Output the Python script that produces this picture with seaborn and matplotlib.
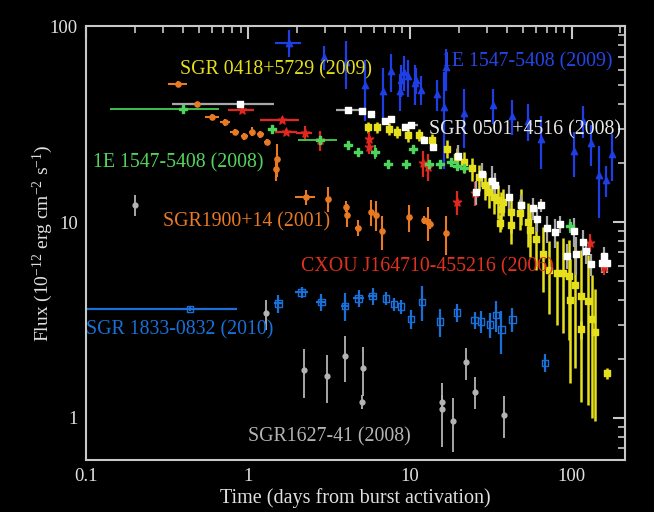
import numpy as np
import pandas as pd
import matplotlib
matplotlib.use("Agg")
import matplotlib.pyplot as plt
import seaborn as sns
from matplotlib.ticker import LogLocator, FixedLocator, FuncFormatter, NullFormatter

# ---------------- data ----------------
# SGR1900+14 (2001)
x_1900 = [0.37, 0.485, 0.60, 0.72, 0.83, 0.95, 1.06, 1.19, 1.31, 1.52, 1.50, 2.28, 3.13, 4.06, 4.08, 4.76,
          5.72, 6.17, 6.72, 9.9, 12.2, 12.9, 13.4, 16.7]
y_1900 = [51, 40, 34.5, 32.3, 29.0, 27.4, 29.0, 28.1, 25.7, 21.0, 18.7, 13.4, 13.2, 12.0, 10.9, 9.35,
          11.2, 10.9, 9.0, 10.6, 10.3, 10.0, 9.8, 8.8]
xe_1900 = [0.05, 0.06, 0.06, 0.05, 0.05, 0.05, 0.05, 0.06, 0.05, 0.03, 0.03, 0.33, 0.03, 0.05, 0.03, 0.2,
           0.05, 0.05, 0.05, 0.1, 0.3, 0.3, 0.3, 0.1]
ye_1900 = [1.5, 1.2, 1.2, 1.2, 1.0, 1.0, 1.5, 1.2, 1.0, 4.0, 2.5, 1.2, 2.0, 0.8, 1.5, 0.9,
           1.7, 1.9, 1.8, 1.7, 0.5, 2.0, 0.6, 2.0]

# SGR 0418+5729 (2009)
x_0418 = [5.5, 6.3, 7.4, 8.3, 9.7, 11.4, 13.8, 16.9, 19.5, 21.7, 24.1, 26.9, 29, 31, 33, 35, 36.7, 42,
          36, 42, 48.6, 53.5, 55, 60, 66.5, 72, 81, 88, 96, 98, 105, 114, 126, 134, 140, 114, 164,
          37.6, 47.6]
y_0418 = [30.5, 30.5, 30, 29, 27.8, 28.0, 26.2, 23.7, 21.5, 20.4, 18.8, 17.0, 15.5, 14.3, 13.5, 12.9, 11.7, 11.3,
          9.9, 9.7, 12.2, 10.0, 9.1, 8.2, 6.9, 5.7, 5.5, 5.5, 5.3, 4.0, 4.8, 4.2, 3.97, 3.2, 2.76, 2.84, 1.69,
          12.7, 11.1]
ye_0418 = [2.0, 2.0, 2.0, 2.0, 2.0, 2, 2.0, 2.5, 2.5, 2.5, 2.5, 2.5, 2.5, 2.5, 2.5, 2.5, 2.5, 2.5,
           1.0, 2, 2.5, 2.5, 2.5, 2.5, 2.5, 2.3, 2.5, 2.8, 2.8, 2.5, 3, 3, 2.8, 2.2, 1.8, 0.3, 0.1,
           2.0, 2.0]

# SGR 0501+4516 (2008)
x_0501 = [0.89, 4.17, 5.05, 5.75, 7.06, 7.6, 9.4, 10.1, 12.3, 13.9, 19.8, 25.6, 27.8, 32.3, 33.4, 40.7,
          48.6, 57.5, 65, 61.3, 70, 79, 85, 93, 103, 107, 117, 123, 132, 153, 158, 165]
y_0501 = [40.2, 37.3, 37.1, 35.5, 33, 33.5, 30.6, 31.2, 26.4, 24.2, 21.8, 14.3, 17.6, 16.3, 15.4, 13.5,
          12.2, 11.8, 12.2, 10.4, 9.3, 8.9, 9.8, 6.75, 9.0, 6.9, 7.9, 7.1, 6.1, 6.2, 6.75, 6.2]
xe_0501 = [0.55, 0.66, 0.2, 0.2, 0.3, 0.2, 0.3, 1.2, 0.3, 0.3, 0, 0, 0, 0, 0, 0,
           0, 0, 0, 0, 0, 0, 0, 0, 0, 0, 0, 0, 0, 0, 0, 0]
ye_0501 = [0.6, 0.6, 0.6, 0.6, 0.6, 0.6, 0.6, 0.6, 1.0, 1.0, 3, 2, 2.5, 3, 2.5, 2,
           1.5, 1.5, 1, 1.5, 1.5, 1.5, 1, 1, 1.5, 1.5, 1.2, 1, 0.8, 0.7, 0.7, 0.7]

# 1E 1547-5408 (2008)
x_1547a = [0.40, 1.40, 2.78, 4.17, 4.8, 6.1, 7.3, 9.5, 10.4, 13.2, 15.4, 18.0, 19.7, 21.5, 98]
y_1547a = [38.0, 29.8, 26.4, 24.8, 22.9, 22.9, 19.7, 19.9, 23.5, 19.7, 19.7, 20.4, 19.3, 18.8, 9.6]
xe_1547a = [0.26, 0.05, 0.75, 0.1, 0.1, 0.1, 0.1, 0.1, 0.1, 0.2, 0.2, 0.3, 0.3, 0.3, 1.5]
ye_1547a = [0.8, 0.8, 0.8, 0.8, 0.8, 2.0, 0.8, 0.8, 0.8, 0.8, 0.8, 0.8, 1.0, 0.8, 0.8]

# 1E 1547-5408 (2009)
x_1547b = [1.79, 2.95, 4.05, 5.3, 6.8, 7.7, 8.7, 8.8, 9.2, 9.8, 10.7, 10.9, 11.8, 14.7, 16.2, 16.8,
           21.7, 32.5, 42.9, 53.5, 64.7, 103, 117, 132, 147, 162, 178]
y_1547b = [82.5, 69.5, 66, 50, 46.5, 59.3, 47, 53.5, 58.5, 55.5, 51.5, 53, 47.5, 45, 38.7, 62,
           36, 39.6, 35, 33, 26.7, 23, 33, 25.4, 17.5, 16.4, 22.2]
ye_1547b = [13, 10, 18, 17, 15, 13, 10, 10, 12, 12, 12, 8, 8, 8, 20, 15,
            12, 8, 7, 7, 8, 6, 6, 6, 7, 3, 6]
xe_1547b = [0.33, 0, 0, 0, 0, 0, 0, 0, 0, 0, 0, 0, 0, 0, 0, 0,
            0, 0, 0, 0, 0, 0, 0, 0, 0, 0, 0]

# CXOU J164710-455216 (2006)
x_cxou = [0.92, 1.63, 1.73, 2.24, 2.77, 5.6, 5.6, 12.0, 13.0, 19.6, 25.4, 129, 158]
y_cxou = [37.5, 33.4, 29.0, 28.6, 26.2, 26.7, 24.3, 20.0, 19.2, 12.7, 14.1, 7.85, 5.9]
xe_cxou = [0.17, 0.45, 0.27, 0.25, 0.05, 0.1, 0.1, 0.2, 0.2, 0.2, 0.3, 1, 1]
ye_cxou = [1.0, 1.0, 1.0, 2.5, 3.0, 2.0, 2.0, 3.0, 3.0, 1.8, 2.0, 0.8, 0.5]

# SGR 1833-0832 (2010)
x_1833 = [0.44, 1.54, 2.15, 2.84, 3.97, 4.83, 5.89, 7.13, 8.0, 8.8, 10.2, 11.9, 15.4, 19.6, 25.1,
          27.6, 31.3, 34, 36.7, 43, 68.5]
y_1833 = [3.6, 3.85, 4.38, 3.92, 3.73, 4.08, 4.19, 4.08, 3.82, 3.7, 3.2, 3.92, 3.1, 3.45, 3.16,
          3.1, 3.0, 3.35, 2.83, 3.19, 1.91]
xe_1833 = [0.42, 0.1, 0.2, 0.2, 0.2, 0.4, 0.4, 0.1, 0.1, 0.1, 0, 0, 0, 0, 0,
           0, 0, 0, 0, 0, 0]
ye_1833 = [0.1, 0.4, 0.3, 0.4, 0.6, 0.4, 0.4, 0.3, 0.3, 0.3, 0.35, 0.8, 0.5, 0.35, 0.3,
           0.4, 0.45, 0.6, 0.7, 0.45, 0.2]

# SGR1627-41 (2008)
x_1627 = [0.20, 1.30, 2.22, 3.09, 3.99, 5.15, 5.10, 15.8, 15.8, 18.6, 22.2, 25.4, 38.0]
y_1627 = [12.3, 3.42, 1.76, 1.64, 2.07, 1.79, 1.21, 1.21, 1.11, 0.97, 1.92, 1.36, 1.04]
ye_1627 = [1.5, 0.6, 0.5, 0.45, 0.55, 0.5, 0.1, 0.1, 0.4, 0.3, 0.35, 0.25, 0.25]

xticks = [0.1, 1, 10, 100]
yticks = [1, 10, 100]
xlabel = "Time (days from burst activation)"
ylabel = r"Flux (10$^{-12}$ erg cm$^{-2}$ s$^{-1}$)"

# labels: text, x, y, color
labels = [
    ("SGR 0418+5729 (2009)", 0.38, 59.7, "#e6df1c"),
    ("1E 1547-5408 (2009)", 15.9, 66.0, "#2545e6"),
    ("SGR 0501+4516 (2008)", 13.2, 29.5, "#e8e8e8"),
    ("1E 1547-5408 (2008)", 0.111, 20.0, "#52d45c"),
    ("SGR1900+14 (2001)", 0.30, 10.0, "#e87a24"),
    ("CXOU J164710-455216 (2006)", 2.13, 5.9, "#e2301f"),
    ("SGR 1833-0832 (2010)", 0.1, 2.81, "#1a70d8"),
    ("SGR1627-41 (2008)", 1.0, 0.80, "#b4b4b4"),
]

# ---------------- style ----------------
sns.set_theme(style="dark")
plt.rcParams.update({
    "figure.facecolor": "black",
    "axes.facecolor": "black",
    "savefig.facecolor": "black",
    "axes.edgecolor": "#c8c8c8",
    "text.color": "#e0e0e0",
    "axes.labelcolor": "#e0e0e0",
    "xtick.color": "#c8c8c8",
    "ytick.color": "#c8c8c8",
    "mathtext.fontset": "custom",
    "mathtext.rm": "Liberation Serif",
    "mathtext.default": "regular",
    "axes.grid": False,
})
plt.rcParams["font.family"] = ["Liberation Serif", "DejaVu Serif"]

fig = plt.figure(figsize=(6.54, 5.12), dpi=100)
ax = fig.add_axes([0.1315, 0.1016, 0.824, 0.847])
ax.set_xscale("log")
ax.set_yscale("log")


def draw(x, y, xe, ye, color, marker, size, ecolor=None, elw=1.5, fc=None, ec=None):
    ecolor = ecolor or color
    ax.errorbar(x, y, xerr=xe, yerr=ye, fmt="none", ecolor=ecolor, elinewidth=elw, capsize=0, zorder=2)
    df = pd.DataFrame({"x": x, "y": y})
    sns.scatterplot(data=df, x="x", y="y", ax=ax, marker=marker, s=size,
                    color=fc if fc is not None else color,
                    edgecolor=ec if ec is not None else color, linewidth=1.0, zorder=3, legend=False)


draw(x_1627, y_1627, None, ye_1627, "#b4b4b4", "o", 12, elw=1.3)
draw(x_1833, y_1833, xe_1833, ye_1833, "#1a70d8", "s", 22, elw=1.6, fc="none", ec="#1a70d8")
draw(x_1547b, y_1547b, xe_1547b, ye_1547b, "#1f3fe6", "^", 20, elw=1.6)
draw(x_1900, y_1900, xe_1900, ye_1900, "#e87a24", "o", 14, elw=1.5)
draw(x_0418, y_0418, None, ye_0418, "#e6df1c", "s", 20, elw=1.8)
draw(x_cxou, y_cxou, xe_cxou, ye_cxou, "#e2281e", "*", 40, elw=1.6)
draw(x_1547a, y_1547a, xe_1547a, ye_1547a, "#4ed45a", "P", 34, ecolor="#3cc048", elw=1.4)
draw(x_0501, y_0501, xe_0501, ye_0501, "white", "s", 20, ecolor="#a8a8a8", elw=1.6)

for txt, tx, ty, col in labels:
    ax.text(tx, ty, txt, color=col, fontsize=14.3, ha="left", va="center", zorder=5)

ax.set_xlim(0.1, 213)
ax.set_ylim(0.61, 100)

ax.xaxis.set_major_locator(FixedLocator(xticks))
ax.yaxis.set_major_locator(FixedLocator(yticks))
fmt = FuncFormatter(lambda v, p: ("%g" % v))
ax.xaxis.set_major_formatter(fmt)
ax.yaxis.set_major_formatter(fmt)
ax.xaxis.set_minor_locator(LogLocator(base=10, subs=np.arange(2, 10), numticks=20))
ax.yaxis.set_minor_locator(LogLocator(base=10, subs=np.arange(2, 10), numticks=20))
ax.xaxis.set_minor_formatter(NullFormatter())
ax.yaxis.set_minor_formatter(NullFormatter())
ax.tick_params(which="both", direction="in", top=True, right=True, colors="#c8c8c8",
               labelcolor="#e0e0e0", labelsize=13.5)
ax.tick_params(which="major", length=9, width=1.5, pad=6)
ax.tick_params(which="minor", length=5, width=1.2)
for sp in ax.spines.values():
    sp.set_color("#c8c8c8")
    sp.set_linewidth(1.5)

ax.set_xlabel(xlabel, fontsize=14.5, labelpad=2)
ax.set_ylabel(ylabel, fontsize=14)
ax.yaxis.set_label_coords(-0.057, 0.5)

fig.savefig("out.png", dpi=100)
